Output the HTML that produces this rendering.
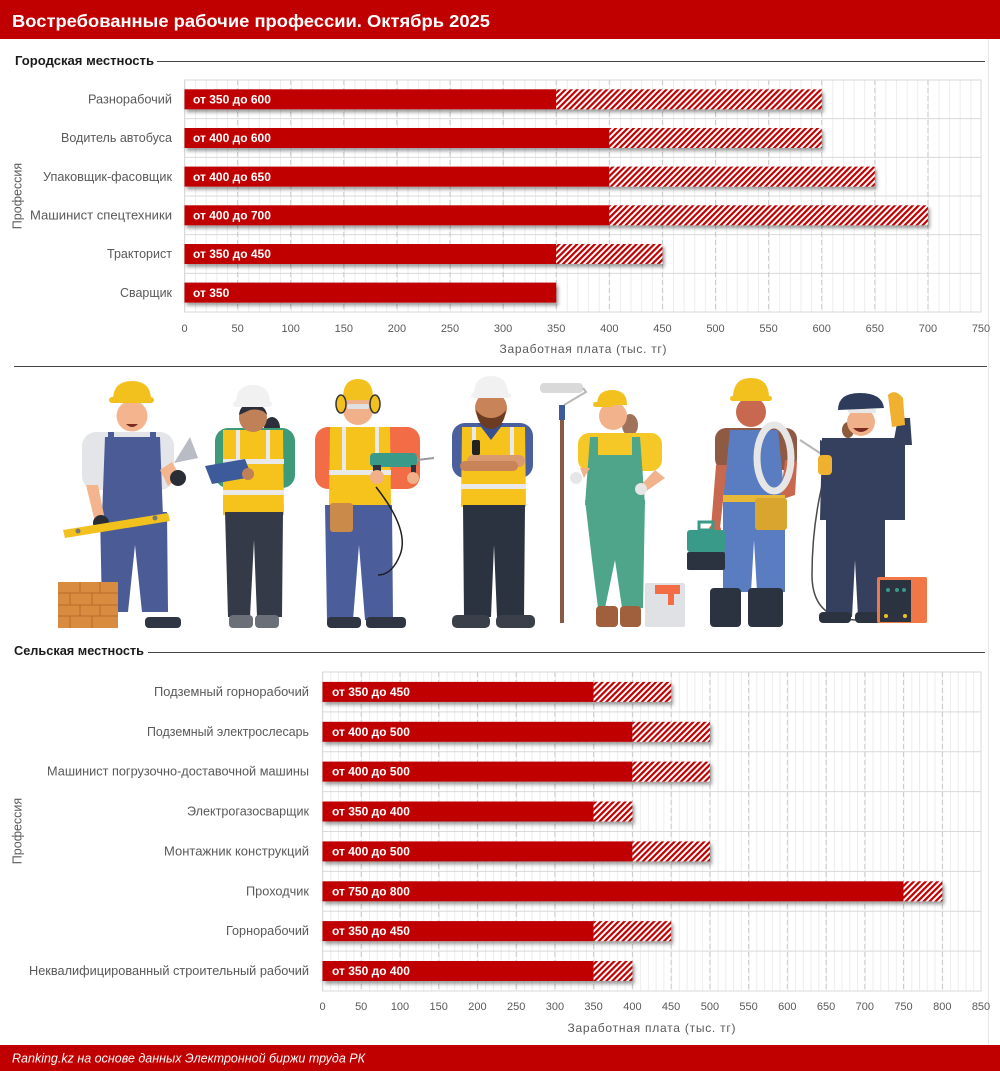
<!DOCTYPE html>
<html><head><meta charset="utf-8"><style>
html,body{margin:0;padding:0;background:#fff;}
svg{display:block;}
text{font-family:"Liberation Sans","Noto Sans CJK SC",sans-serif;}
</style></head><body>
<svg width="1000" height="1071" viewBox="0 0 1000 1071" xmlns="http://www.w3.org/2000/svg">
<defs>
  <pattern id="hatch" patternUnits="userSpaceOnUse" width="4.2" height="4.2" patternTransform="rotate(45)">
    <rect x="0" y="0" width="4.2" height="4.2" fill="#ffffff"/>
    <rect x="0" y="0" width="2.2" height="4.2" fill="#c00000"/>
  </pattern>
  <pattern id="minT" patternUnits="userSpaceOnUse" x="184.5" y="0" width="10.62" height="20">
    <rect x="0" y="0" width="1" height="20" fill="#ededed"/>
  </pattern>
  <pattern id="minB" patternUnits="userSpaceOnUse" x="322.5" y="0" width="7.747" height="20">
    <rect x="0" y="0" width="1" height="20" fill="#ededed"/>
  </pattern>
  <filter id="sh" x="-5%" y="-40%" width="110%" height="200%">
    <feDropShadow dx="2" dy="3" stdDeviation="1.8" flood-color="#000" flood-opacity="0.38"/>
  </filter>
</defs>

<!-- header -->
<rect x="0" y="0" width="1000" height="39" fill="#c00000"/>
<text x="12" y="27" font-size="17.5" font-weight="bold" fill="#fff" textLength="478" lengthAdjust="spacingAndGlyphs">Востребованные рабочие профессии. Октябрь 2025</text>
<line x1="988.5" y1="39" x2="988.5" y2="1045" stroke="#e8e8e8" stroke-width="1"/>

<!-- section 1 -->
<text x="15" y="65" font-size="12.5" font-weight="bold" fill="#1a1a1a" textLength="139" lengthAdjust="spacingAndGlyphs">Городская местность</text>
<line x1="157" y1="61.5" x2="985" y2="61.5" stroke="#444" stroke-width="1"/>

<!-- top chart grid -->
<rect x="184.5" y="80" width="796.5" height="232" fill="url(#minT)"/>
<g stroke="#d9d9d9" stroke-width="1">
  <line x1="184.5" y1="118.67" x2="981" y2="118.67"/>
  <line x1="184.5" y1="157.33" x2="981" y2="157.33"/>
  <line x1="184.5" y1="196" x2="981" y2="196"/>
  <line x1="184.5" y1="234.67" x2="981" y2="234.67"/>
  <line x1="184.5" y1="273.33" x2="981" y2="273.33"/>
</g>
<g stroke="#cbcbcb" stroke-width="1" stroke-dasharray="5 3">
  <line x1="237.6" y1="80" x2="237.6" y2="312"/>
  <line x1="290.7" y1="80" x2="290.7" y2="312"/>
  <line x1="343.8" y1="80" x2="343.8" y2="312"/>
  <line x1="396.9" y1="80" x2="396.9" y2="312"/>
  <line x1="450" y1="80" x2="450" y2="312"/>
  <line x1="503.1" y1="80" x2="503.1" y2="312"/>
  <line x1="556.2" y1="80" x2="556.2" y2="312"/>
  <line x1="609.3" y1="80" x2="609.3" y2="312"/>
  <line x1="662.4" y1="80" x2="662.4" y2="312"/>
  <line x1="715.5" y1="80" x2="715.5" y2="312"/>
  <line x1="768.6" y1="80" x2="768.6" y2="312"/>
  <line x1="821.7" y1="80" x2="821.7" y2="312"/>
  <line x1="874.8" y1="80" x2="874.8" y2="312"/>
  <line x1="927.9" y1="80" x2="927.9" y2="312"/>
  <line x1="981" y1="80" x2="981" y2="312"/>
</g>
<rect x="184.5" y="80" width="796.5" height="232" fill="none" stroke="#d9d9d9" stroke-width="1"/>

<!-- top bars -->
<g filter="url(#sh)">
  <rect x="184.5" y="89.3" width="371.7" height="20" fill="#c00000"/>
  <rect x="556.2" y="89.3" width="265.5" height="20" fill="url(#hatch)"/>
</g>
<g filter="url(#sh)">
  <rect x="184.5" y="128" width="424.8" height="20" fill="#c00000"/>
  <rect x="609.3" y="128" width="212.4" height="20" fill="url(#hatch)"/>
</g>
<g filter="url(#sh)">
  <rect x="184.5" y="166.6" width="424.8" height="20" fill="#c00000"/>
  <rect x="609.3" y="166.6" width="265.5" height="20" fill="url(#hatch)"/>
</g>
<g filter="url(#sh)">
  <rect x="184.5" y="205.3" width="424.8" height="20" fill="#c00000"/>
  <rect x="609.3" y="205.3" width="318.6" height="20" fill="url(#hatch)"/>
</g>
<g filter="url(#sh)">
  <rect x="184.5" y="244" width="371.7" height="20" fill="#c00000"/>
  <rect x="556.2" y="244" width="106.2" height="20" fill="url(#hatch)"/>
</g>
<g filter="url(#sh)">
  <rect x="184.5" y="282.6" width="371.7" height="20" fill="#c00000"/>
</g>

<g font-size="12" font-weight="bold" fill="#fff">
  <text x="193" y="103.5">от 350 до 600</text>
  <text x="193" y="142.2">от 400 до 600</text>
  <text x="193" y="180.8">от 400 до 650</text>
  <text x="193" y="219.5">от 400 до 700</text>
  <text x="193" y="258.2">от 350 до 450</text>
  <text x="193" y="296.8">от 350</text>
</g>

<g font-size="12.5" fill="#595959" text-anchor="end">
  <text x="172" y="103.5" textLength="84" lengthAdjust="spacingAndGlyphs">Разнорабочий</text>
  <text x="172" y="142.2" textLength="111" lengthAdjust="spacingAndGlyphs">Водитель автобуса</text>
  <text x="172" y="180.8" textLength="129" lengthAdjust="spacingAndGlyphs">Упаковщик-фасовщик</text>
  <text x="172" y="219.5" textLength="142" lengthAdjust="spacingAndGlyphs">Машинист спецтехники</text>
  <text x="172" y="258.2" textLength="65" lengthAdjust="spacingAndGlyphs">Тракторист</text>
  <text x="172" y="296.8" textLength="52" lengthAdjust="spacingAndGlyphs">Сварщик</text>
</g>
<text transform="translate(21.5,196) rotate(-90)" font-size="12.5" fill="#595959" text-anchor="middle">Профессия</text>

<g font-size="11" fill="#595959" text-anchor="middle">
  <text x="184.5" y="332">0</text>
  <text x="237.6" y="332">50</text>
  <text x="290.7" y="332">100</text>
  <text x="343.8" y="332">150</text>
  <text x="396.9" y="332">200</text>
  <text x="450" y="332">250</text>
  <text x="503.1" y="332">300</text>
  <text x="556.2" y="332">350</text>
  <text x="609.3" y="332">400</text>
  <text x="662.4" y="332">450</text>
  <text x="715.5" y="332">500</text>
  <text x="768.6" y="332">550</text>
  <text x="821.7" y="332">600</text>
  <text x="874.8" y="332">650</text>
  <text x="927.9" y="332">700</text>
  <text x="981" y="332">750</text>
</g>
<text x="583" y="353" font-size="12" fill="#595959" text-anchor="middle" textLength="167" lengthAdjust="spacing">Заработная плата (тыс. тг)</text>

<line x1="14" y1="366.5" x2="987" y2="366.5" stroke="#444" stroke-width="1"/>

<!-- ILLUSTRATION -->
<!-- worker 1 -->
<g>
  <rect x="82" y="432" width="92" height="58" rx="14" fill="#e4e5e8"/>
  <path d="M105 437 L160 437 L163 517 L102 517 Z" fill="#4a5b96"/>
  <rect x="108" y="432" width="6" height="12" fill="#4a5b96"/>
  <rect x="150" y="432" width="6" height="12" fill="#4a5b96"/>
  <path d="M100 512 L167 512 L168 612 L142 612 L135 545 L128 612 L102 612 Z" fill="#4a5b96"/>
  <path d="M86 485 L98 485 L105 520 L95 522 Z" fill="#f4b58e"/>
  <path d="M160 470 L172 462 L180 476 L168 486 Z" fill="#f4b58e"/>
  <circle cx="101" cy="523" r="8" fill="#2a2d36"/>
  <circle cx="178" cy="478" r="8" fill="#2a2d36"/>
  <polygon points="174,463 190,437 198,458" fill="#b9bcc4"/>
  <polygon points="63,530 168,513 170,521 65,538" fill="#f2c11d"/>
  <circle cx="78" cy="531" r="2.5" fill="#777"/>
  <circle cx="155" cy="518" r="2.5" fill="#777"/>
  <rect x="145" y="617" width="36" height="11" rx="4" fill="#2f3542"/>
  <circle cx="132" cy="416" r="15.5" fill="#f4b58e"/>
  <path d="M126 424 Q132 430 138 424 Z" fill="#7a2a20"/>
  <path d="M113 400 Q113 381 132 381 Q151 381 151 400 Z" fill="#f2c11d"/>
  <rect x="109" y="397" width="45" height="6" rx="3" fill="#f2c11d"/>
  <rect x="58" y="582" width="60" height="46" fill="#d98c3f"/>
  <g stroke="#b86a2a" stroke-width="1">
    <line x1="58" y1="593" x2="118" y2="593"/>
    <line x1="58" y1="605" x2="118" y2="605"/>
    <line x1="58" y1="616" x2="118" y2="616"/>
    <line x1="80" y1="582" x2="80" y2="593"/><line x1="100" y1="582" x2="100" y2="593"/>
    <line x1="70" y1="593" x2="70" y2="605"/><line x1="92" y1="593" x2="92" y2="605"/>
    <line x1="80" y1="605" x2="80" y2="616"/><line x1="100" y1="605" x2="100" y2="616"/>
    <line x1="70" y1="616" x2="70" y2="628"/><line x1="92" y1="616" x2="92" y2="628"/>
  </g>
</g>

<!-- worker 2 -->
<g>
  <ellipse cx="272" cy="428" rx="8" ry="11" fill="#2c2f3a"/>
  <rect x="215" y="428" width="80" height="60" rx="13" fill="#3f9a7a"/>
  <path d="M223 430 L283 430 L284 515 L223 515 Z" fill="#f6c21c"/>
  <rect x="223" y="459" width="61" height="5" fill="#e9e9e9"/>
  <rect x="223" y="490" width="61" height="5" fill="#e9e9e9"/>
  <rect x="236" y="430" width="4" height="29" fill="#e9e9e9"/>
  <rect x="266" y="430" width="4" height="29" fill="#e9e9e9"/>
  <path d="M225 512 L283 512 L282 617 L257 617 L254 540 L250 617 L228 617 Z" fill="#343a48"/>
  <rect x="229" y="615" width="24" height="13" rx="4" fill="#6b6f78"/>
  <rect x="255" y="615" width="24" height="13" rx="4" fill="#6b6f78"/>
  <polygon points="205,466 245,459 252,477 212,484" fill="#3d5a9a"/>
  <circle cx="248" cy="474" r="6" fill="#c08058"/>
  <circle cx="253" cy="418" r="14" fill="#c08058"/>
  <path d="M239 415 Q240 403 253 404 Q266 405 267 415 Q262 408 250 410 Z" fill="#2c2f3a"/>
  <path d="M236 403 Q236 385 253 385 Q270 385 270 403 Z" fill="#f1f1f1"/>
  <rect x="233" y="401" width="39" height="6" rx="3" fill="#f1f1f1"/>
</g>

<!-- worker 3 -->
<g>
  <rect x="315" y="427" width="105" height="62" rx="13" fill="#f26c45"/>
  <path d="M330 427 L390 427 L391 507 L329 507 Z" fill="#f6c21c"/>
  <rect x="329" y="470" width="62" height="5" fill="#e9e9e9"/>
  <rect x="342" y="427" width="4" height="43" fill="#e9e9e9"/>
  <rect x="375" y="427" width="4" height="43" fill="#e9e9e9"/>
  <path d="M325 505 L392 505 L393 620 L365 620 L359 545 L353 620 L327 620 Z" fill="#4b5d9b"/>
  <rect x="327" y="617" width="34" height="11" rx="4" fill="#2f3542"/>
  <rect x="366" y="617" width="40" height="11" rx="4" fill="#2f3542"/>
  <rect x="330" y="503" width="23" height="29" rx="3" fill="#c98a4a"/>
  <path d="M376 487 Q410 530 400 555 Q392 575 378 575" fill="none" stroke="#1f1f1f" stroke-width="1.5"/>
  <rect x="370" y="453" width="47" height="14" rx="4" fill="#3a9a8a"/>
  <line x1="417" y1="460" x2="434" y2="458" stroke="#999" stroke-width="2"/>
  <rect x="411" y="465" width="5" height="14" fill="#2c3340"/>
  <rect x="373" y="465" width="8" height="18" fill="#2c3340"/>
  <circle cx="377" cy="477" r="7" fill="#f0b089"/>
  <circle cx="413" cy="478" r="6" fill="#f0b089"/>
  <circle cx="358" cy="410" r="15" fill="#f0b089"/>
  <rect x="347" y="404" width="22" height="5" rx="2" fill="#dfe6ea" opacity="0.9"/>
  <path d="M343 398 Q343 379 358 379 Q373 379 373 398 Z" fill="#f2c11d"/>
  <rect x="341" y="395" width="35" height="5" rx="2.5" fill="#f2c11d"/>
  <ellipse cx="341" cy="404" rx="5" ry="9" fill="#f2c11d" stroke="#333" stroke-width="1.5"/>
  <ellipse cx="375" cy="404" rx="5" ry="9" fill="#f2c11d" stroke="#333" stroke-width="1.5"/>
</g>

<!-- worker 4 -->
<g>
  <rect x="452" y="423" width="81" height="55" rx="13" fill="#4a5f9e"/>
  <path d="M462 427 L525 427 L526 507 L461 507 Z" fill="#f6c21c"/>
  <rect x="461" y="484" width="65" height="5" fill="#e9e9e9"/>
  <rect x="472" y="427" width="4" height="30" fill="#e9e9e9"/>
  <rect x="510" y="427" width="4" height="30" fill="#e9e9e9"/>
  <path d="M478 423 L491 440 L504 423 Z" fill="#3a4f8e"/>
  <rect x="467" y="455" width="58" height="12" rx="6" fill="#d99a70"/>
  <rect x="460" y="461" width="58" height="10" rx="5" fill="#c88358"/>
  <rect x="472" y="440" width="8" height="15" rx="2" fill="#222"/>
  <path d="M463 505 L525 505 L524 617 L497 617 L494 545 L491 617 L464 617 Z" fill="#2c3340"/>
  <rect x="452" y="615" width="38" height="13" rx="5" fill="#3a3f4a"/>
  <rect x="496" y="615" width="39" height="13" rx="5" fill="#3a3f4a"/>
  <circle cx="491" cy="408" r="16" fill="#c88358"/>
  <path d="M476 410 Q478 428 491 429 Q504 428 506 410 Q500 418 491 418 Q482 418 476 410 Z" fill="#6b3b22"/>
  <path d="M474 395 Q474 376 491 376 Q508 376 508 395 Z" fill="#f1f1f1"/>
  <rect x="471" y="393" width="40" height="5" rx="2.5" fill="#f1f1f1"/>
</g>

<!-- worker 5 -->
<g>
  <rect x="540" y="383" width="43" height="10" rx="4" fill="#d9d9d9"/>
  <path d="M583 388 L586 392 L564 405" fill="none" stroke="#b8b8b8" stroke-width="2"/>
  <rect x="560" y="405" width="4" height="218" fill="#8a5a45"/>
  <rect x="559" y="405" width="6" height="15" fill="#3d5a9a"/>
  <ellipse cx="630" cy="425" rx="8" ry="11" fill="#a0725a"/>
  <rect x="578" y="433" width="84" height="38" rx="11" fill="#f5c828"/>
  <path d="M590 437 L598 437 L598 455 L632 455 L632 437 L640 437 L645 505 L585 505 Z" fill="#4ea58a"/>
  <path d="M585 500 L645 500 L643 608 L622 608 L615 560 L605 608 L598 608 L592 560 Z" fill="#4ea58a"/>
  <path d="M580 468 L590 468 L584 478 Z" fill="#f2b28c"/>
  <circle cx="576" cy="478" r="6" fill="#e6e6e6"/>
  <path d="M655 470 L665 478 L645 492 L640 486 Z" fill="#f2b28c"/>
  <circle cx="641" cy="489" r="6" fill="#e6e6e6"/>
  <rect x="596" y="606" width="22" height="21" rx="4" fill="#a0603d"/>
  <rect x="620" y="606" width="21" height="21" rx="4" fill="#a0603d"/>
  <circle cx="613" cy="416" r="14" fill="#f2b28c"/>
  <path d="M597 405 Q597 390 612 390 Q627 390 627 405 Z" fill="#f2c11d"/>
  <rect x="593" y="402" width="20" height="5" rx="2.5" fill="#f2c11d"/>
  <rect x="645" y="583" width="40" height="44" rx="2" fill="#e0e1e5"/>
  <rect x="655" y="585" width="25" height="9" fill="#f26c45"/>
  <rect x="668" y="585" width="6" height="20" fill="#f26c45"/>
</g>

<!-- worker 6 -->
<g>
  <rect x="715" y="428" width="82" height="42" rx="11" fill="#8f5a44"/>
  <path d="M730 430 L778 430 L785 500 L785 592 L757 592 L754 540 L751 592 L723 592 L723 500 Z" fill="#5a7cc0"/>
  <path d="M716 465 L727 465 L720 528 L711 528 Z" fill="#c8684f"/>
  <circle cx="715" cy="530" r="6" fill="#c8684f"/>
  <path d="M785 460 L797 462 L795 495 L780 500 Z" fill="#c8684f"/>
  <ellipse cx="774" cy="458" rx="17" ry="33" fill="none" stroke="#e6e6e6" stroke-width="7"/>
  <rect x="723" y="495" width="62" height="7" fill="#e8b838"/>
  <rect x="755" y="498" width="32" height="32" rx="3" fill="#d9a52e"/>
  <rect x="687" y="530" width="38" height="22" rx="3" fill="#3a9a8a"/>
  <rect x="687" y="552" width="38" height="18" rx="2" fill="#2c3340"/>
  <rect x="699" y="522" width="14" height="8" fill="none" stroke="#3a9a8a" stroke-width="3"/>
  <rect x="710" y="588" width="31" height="39" rx="4" fill="#2c3340"/>
  <rect x="748" y="588" width="35" height="39" rx="4" fill="#2c3340"/>
  <circle cx="751" cy="412" r="15" fill="#c8684f"/>
  <path d="M733 398 Q733 378 751 378 Q769 378 769 398 Z" fill="#f2c11d"/>
  <rect x="730" y="396" width="42" height="5" rx="2.5" fill="#f2c11d"/>
</g>

<!-- worker 7 -->
<g>
  <path d="M826 470 Q812 520 812 575 Q812 610 840 618 Q870 623 880 618" fill="none" stroke="#4a4a4a" stroke-width="1.5"/>
  <line x1="800" y1="440" x2="826" y2="457" stroke="#b5b5b5" stroke-width="2"/>
  <path d="M822 438 L905 438 L905 520 L885 520 L885 617 L858 617 L855 560 L852 617 L826 617 L826 520 L820 520 Z" fill="#34405e"/>
  <path d="M893 445 L912 445 L910 418 L898 418 Z" fill="#34405e"/>
  <path d="M888 395 Q895 388 903 398 L905 425 L892 427 Z" fill="#f0b030"/>
  <path d="M820 440 L834 445 L832 470 L820 468 Z" fill="#34405e"/>
  <rect x="818" y="455" width="14" height="20" rx="4" fill="#f0b030"/>
  <rect x="819" y="612" width="32" height="11" rx="4" fill="#2c3340"/>
  <rect x="855" y="612" width="29" height="11" rx="4" fill="#2c3340"/>
  <ellipse cx="848" cy="430" rx="6" ry="8" fill="#8a5a3a"/>
  <circle cx="861" cy="422" r="14" fill="#f0b08a"/>
  <path d="M853 428 Q861 436 869 428 Z" fill="#7a2a20"/>
  <rect x="848" y="409" width="28" height="4" rx="2" fill="#e8e8e8"/>
  <path d="M838 410 Q838 393 860 393 Q882 393 884 408 Z" fill="#2e3b5a"/>
  <rect x="877" y="577" width="50" height="46" rx="2" fill="#f07848"/>
  <rect x="880" y="580" width="31" height="42" fill="#2c3340"/>
  <circle cx="888" cy="590" r="2" fill="#3a9a8a"/>
  <circle cx="897" cy="590" r="2" fill="#3a9a8a"/>
  <circle cx="904" cy="590" r="2" fill="#3a9a8a"/>
  <circle cx="886" cy="616" r="2" fill="#f2c11d"/>
  <circle cx="905" cy="616" r="2" fill="#f2c11d"/>
</g>

<!-- section 2 -->
<text x="14" y="655" font-size="12.5" font-weight="bold" fill="#1a1a1a" textLength="130" lengthAdjust="spacingAndGlyphs">Сельская местность</text>
<line x1="148" y1="652.5" x2="985" y2="652.5" stroke="#444" stroke-width="1"/>

<!-- bottom chart grid -->
<rect x="322.5" y="672" width="658.5" height="319" fill="url(#minB)"/>
<g stroke="#d9d9d9" stroke-width="1">
  <line x1="322.5" y1="711.9" x2="981" y2="711.9"/>
  <line x1="322.5" y1="751.75" x2="981" y2="751.75"/>
  <line x1="322.5" y1="791.6" x2="981" y2="791.6"/>
  <line x1="322.5" y1="831.5" x2="981" y2="831.5"/>
  <line x1="322.5" y1="871.4" x2="981" y2="871.4"/>
  <line x1="322.5" y1="911.25" x2="981" y2="911.25"/>
  <line x1="322.5" y1="951.1" x2="981" y2="951.1"/>
</g>
<g stroke="#cbcbcb" stroke-width="1" stroke-dasharray="5 3">
  <line x1="361.2" y1="672" x2="361.2" y2="991"/>
  <line x1="400" y1="672" x2="400" y2="991"/>
  <line x1="438.7" y1="672" x2="438.7" y2="991"/>
  <line x1="477.4" y1="672" x2="477.4" y2="991"/>
  <line x1="516.2" y1="672" x2="516.2" y2="991"/>
  <line x1="554.9" y1="672" x2="554.9" y2="991"/>
  <line x1="593.6" y1="672" x2="593.6" y2="991"/>
  <line x1="632.4" y1="672" x2="632.4" y2="991"/>
  <line x1="671.1" y1="672" x2="671.1" y2="991"/>
  <line x1="709.9" y1="672" x2="709.9" y2="991"/>
  <line x1="748.6" y1="672" x2="748.6" y2="991"/>
  <line x1="787.3" y1="672" x2="787.3" y2="991"/>
  <line x1="826.1" y1="672" x2="826.1" y2="991"/>
  <line x1="864.8" y1="672" x2="864.8" y2="991"/>
  <line x1="903.5" y1="672" x2="903.5" y2="991"/>
  <line x1="942.3" y1="672" x2="942.3" y2="991"/>
  <line x1="981" y1="672" x2="981" y2="991"/>
</g>
<rect x="322.5" y="672" width="658.5" height="319" fill="none" stroke="#d9d9d9" stroke-width="1"/>

<!-- bottom bars -->
<g filter="url(#sh)">
  <rect x="322.5" y="681.9" width="271.1" height="20" fill="#c00000"/>
  <rect x="593.6" y="681.9" width="77.5" height="20" fill="url(#hatch)"/>
</g>
<g filter="url(#sh)">
  <rect x="322.5" y="721.8" width="309.9" height="20" fill="#c00000"/>
  <rect x="632.4" y="721.8" width="77.5" height="20" fill="url(#hatch)"/>
</g>
<g filter="url(#sh)">
  <rect x="322.5" y="761.6" width="309.9" height="20" fill="#c00000"/>
  <rect x="632.4" y="761.6" width="77.5" height="20" fill="url(#hatch)"/>
</g>
<g filter="url(#sh)">
  <rect x="322.5" y="801.5" width="271.1" height="20" fill="#c00000"/>
  <rect x="593.6" y="801.5" width="38.8" height="20" fill="url(#hatch)"/>
</g>
<g filter="url(#sh)">
  <rect x="322.5" y="841.4" width="309.9" height="20" fill="#c00000"/>
  <rect x="632.4" y="841.4" width="77.5" height="20" fill="url(#hatch)"/>
</g>
<g filter="url(#sh)">
  <rect x="322.5" y="881.3" width="581" height="20" fill="#c00000"/>
  <rect x="903.5" y="881.3" width="38.8" height="20" fill="url(#hatch)"/>
</g>
<g filter="url(#sh)">
  <rect x="322.5" y="921.1" width="271.1" height="20" fill="#c00000"/>
  <rect x="593.6" y="921.1" width="77.5" height="20" fill="url(#hatch)"/>
</g>
<g filter="url(#sh)">
  <rect x="322.5" y="961" width="271.1" height="20" fill="#c00000"/>
  <rect x="593.6" y="961" width="38.8" height="20" fill="url(#hatch)"/>
</g>

<g font-size="12" font-weight="bold" fill="#fff">
  <text x="332" y="696">от 350 до 450</text>
  <text x="332" y="735.9">от 400 до 500</text>
  <text x="332" y="775.7">от 400 до 500</text>
  <text x="332" y="815.6">от 350 до 400</text>
  <text x="332" y="855.5">от 400 до 500</text>
  <text x="332" y="895.4">от 750 до 800</text>
  <text x="332" y="935.2">от 350 до 450</text>
  <text x="332" y="975.1">от 350 до 400</text>
</g>

<g font-size="12.5" fill="#595959" text-anchor="end">
  <text x="309" y="696" textLength="155" lengthAdjust="spacingAndGlyphs">Подземный горнорабочий</text>
  <text x="309" y="735.9" textLength="162" lengthAdjust="spacingAndGlyphs">Подземный электрослесарь</text>
  <text x="309" y="775.7" textLength="262" lengthAdjust="spacingAndGlyphs">Машинист погрузочно-доставочной машины</text>
  <text x="309" y="815.6" textLength="122" lengthAdjust="spacingAndGlyphs">Электрогазосварщик</text>
  <text x="309" y="855.5" textLength="145" lengthAdjust="spacingAndGlyphs">Монтажник конструкций</text>
  <text x="309" y="895.4" textLength="63" lengthAdjust="spacingAndGlyphs">Проходчик</text>
  <text x="309" y="935.2" textLength="83" lengthAdjust="spacingAndGlyphs">Горнорабочий</text>
  <text x="309" y="975.1" textLength="280" lengthAdjust="spacingAndGlyphs">Неквалифицированный строительный рабочий</text>
</g>
<text transform="translate(21.5,831) rotate(-90)" font-size="12.5" fill="#595959" text-anchor="middle">Профессия</text>

<g font-size="11" fill="#595959" text-anchor="middle">
  <text x="322.5" y="1010">0</text>
  <text x="361.2" y="1010">50</text>
  <text x="400" y="1010">100</text>
  <text x="438.7" y="1010">150</text>
  <text x="477.4" y="1010">200</text>
  <text x="516.2" y="1010">250</text>
  <text x="554.9" y="1010">300</text>
  <text x="593.6" y="1010">350</text>
  <text x="632.4" y="1010">400</text>
  <text x="671.1" y="1010">450</text>
  <text x="709.9" y="1010">500</text>
  <text x="748.6" y="1010">550</text>
  <text x="787.3" y="1010">600</text>
  <text x="826.1" y="1010">650</text>
  <text x="864.8" y="1010">700</text>
  <text x="903.5" y="1010">750</text>
  <text x="942.3" y="1010">800</text>
  <text x="981" y="1010">850</text>
</g>
<text x="651.5" y="1032" font-size="12" fill="#595959" text-anchor="middle" textLength="168" lengthAdjust="spacing">Заработная плата (тыс. тг)</text>

<!-- footer -->
<rect x="0" y="1045" width="1000" height="26" fill="#c00000"/>
<text x="12" y="1062.5" font-size="12.5" font-style="italic" fill="#fff" textLength="353" lengthAdjust="spacingAndGlyphs">Ranking.kz на основе данных Электронной биржи труда РК</text>
</svg>
</body></html>
